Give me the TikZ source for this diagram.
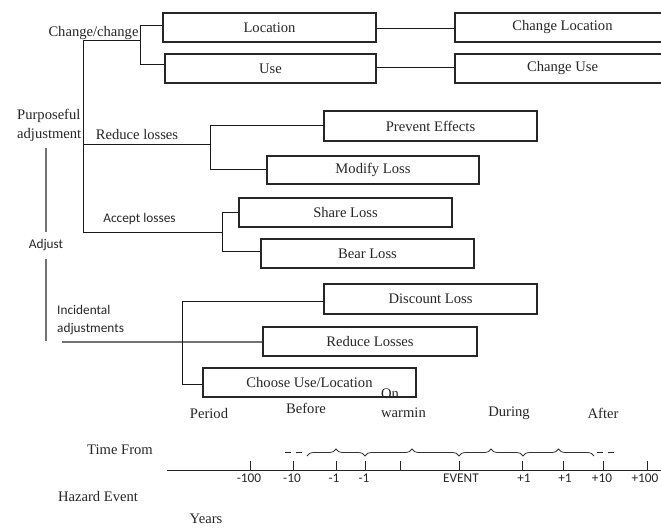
\documentclass[tikz,border=0pt]{standalone}
\usepackage{fontspec}
\setmainfont{Liberation Serif}
\newfontfamily\sansfam{Carlito}
\usetikzlibrary{decorations.pathreplacing}
\newcommand{\serifsz}{\fontsize{14.6}{17}\selectfont}
\newcommand{\sanssz}{\sansfam\fontsize{13.3}{16}\selectfont}
\begin{document}
\begin{tikzpicture}[x=1pt,y=-1pt,
  box/.style={draw=black!85, line width=1.6pt, minimum height=29pt, minimum width=213pt, inner sep=0pt, font=\serifsz, text=black!85},
  conn/.style={draw=black!90, line width=0.9pt},
  gconn/.style={draw=black!55, line width=1.1pt},
  stxt/.style={font=\serifsz, text=black!85, inner sep=0pt},
  ntxt/.style={font=\sanssz, text=black!85, inner sep=0pt},
  axlab/.style={font=\sanssz, text=black!85, inner sep=0pt},
  tk/.style={draw=black!85, line width=0.9pt},
  brc/.style={draw=black!80, line width=0.8pt, decorate, decoration={brace, amplitude=7pt}},
  dsh/.style={draw=black!85, line width=0.9pt, dash pattern=on 6pt off 5pt}
]
\useasboundingbox (0,0) rectangle (661,528);

% boxes
\node[box] (loc) at (269.5,27.5) {Location};
\node[box, minimum width=211pt] (use) at (270.5,68.5) {Use};
\node[box, minimum width=215pt] (chloc) at (562.5,27.5) {Change Location};
\node[box, minimum width=215pt] (chuse) at (562.5,68.5) {Change Use};
\node[box, minimum height=30pt] (prev) at (430.5,126) {Prevent Effects};
\node[box, minimum height=28pt, minimum width=212pt] (mod) at (373,170) {Modify Loss};
\node[box] (share) at (345.5,212.5) {Share Loss};
\node[box] (bear) at (367.5,253.5) {Bear Loss};
\node[box, minimum height=30pt] (disc) at (430.5,299) {Discount Loss};
\node[box, minimum width=214pt] (redl) at (370,341.5) {Reduce Losses};
\node[box] (choose) at (309.5,382.5) {Choose Use/Location};

% labels
\node[stxt] (cc) at (93.5,33) {Change/change};
\node[stxt, anchor=west] (purp) at (17,116) {Purposeful};
\node[stxt, anchor=west] (adjm) at (17,135) {adjustment};
\node[stxt] (redt) at (137,135) {Reduce losses};
\node[ntxt] (acct) at (139.5,219) {Accept losses};
\node[ntxt] (adj) at (46,245) {Adjust};
\node[ntxt, anchor=west] (inc1) at (57,310) {Incidental};
\node[ntxt, anchor=west] (inc2) at (57,329) {adjustments};
\node[stxt] (on) at (390,394) {On};

% tree coordinates
\coordinate (ttop) at (83,40);
\coordinate (tbot) at (83,232);
\coordinate (ccj) at (140,40);
\coordinate (ccu) at (140,25);
\coordinate (ccd) at (140,64);
\coordinate (rj) at (210,144);
\coordinate (rju) at (210,125);
\coordinate (rjd) at (210,169);
\coordinate (aj) at (222,232);
\coordinate (aju) at (222,212);
\coordinate (ajd) at (222,251);
\coordinate (ij) at (62,342);
\coordinate (iju) at (182,301);
\coordinate (ijd) at (182,384);
\coordinate (av1) at (46,148);
\coordinate (av2) at (46,232);
\coordinate (av3) at (46,259);
\coordinate (av4) at (46,341);

% trunk
\draw[conn] (tbot) -- (ttop) -- (ccj);
\draw[conn] (ccu) -- (ccd);
\draw[conn] (ccu) -- (loc.west |- ccu);
\draw[conn] (ccd) -- (use.west |- ccd);
\draw[conn] (loc.east |- 0,28) -- (chloc.west |- 0,28);
\draw[conn] (use.east |- 0,67) -- (chuse.west |- 0,67);
% reduce losses
\draw[conn] (83,144) -- (rj);
\draw[conn] (rju) -- (rjd);
\draw[conn] (rju) -- (prev.west |- rju);
\draw[conn] (rjd) -- (mod.west |- rjd);
% accept losses
\draw[conn] (tbot) -- (aj);
\draw[conn] (aju) -- (ajd);
\draw[conn] (aju) -- (share.west |- aju);
\draw[conn] (ajd) -- (bear.west |- ajd);
% adjust vertical
\draw[gconn] (av1) -- (av2);
\draw[gconn] (av3) -- (av4);
% incidental
\draw[gconn] (ij) -- (redl.west |- ij);
\draw[conn] (iju) -- (ijd);
\draw[conn] (iju) -- (disc.west |- iju);
\draw[conn] (ijd) -- (choose.west |- ijd);

% period row
\node[stxt] (per) at (209,413) {Period};
\node[stxt] (bef) at (306,408) {Before};
\node[stxt] (warm) at (403.5,413) {warmin};
\node[stxt] (dur) at (509,413) {During};
\node[stxt] (aft) at (603,413) {After};
\node[stxt] (tf) at (120,450) {Time From};
\node[stxt] (hz) at (98,496) {Hazard Event};
\node[stxt] (yrs) at (206,519) {Years};

% axis
\coordinate (axl) at (167,470);
\coordinate (axr) at (663,470);
\draw[tk] (axl) -- (axr);
\foreach \x/\lx/\t in {250/249/-100, 293/292/-10, 336/334/-1, 365/364/-1, 459/461/EVENT, 522/524/+1, 563/565/+1, 603/602/+10, 647/645/+100}{
  \draw[tk] (\x,461) -- (\x,470);
  \node[axlab] at (\lx,478) {\t};
}
\draw[tk] (400,461) -- (400,470);

% braces
\draw[brc] (307,456) -- (365,456);
\draw[brc] (365,456) -- (459,456);
\draw[brc] (459,456) -- (523,456);
\draw[brc] (523,456) -- (594,456);
\draw[dsh] (285,452) -- (302,452);
\draw[dsh] (597,452) -- (614,452);
\end{tikzpicture}
\end{document}
